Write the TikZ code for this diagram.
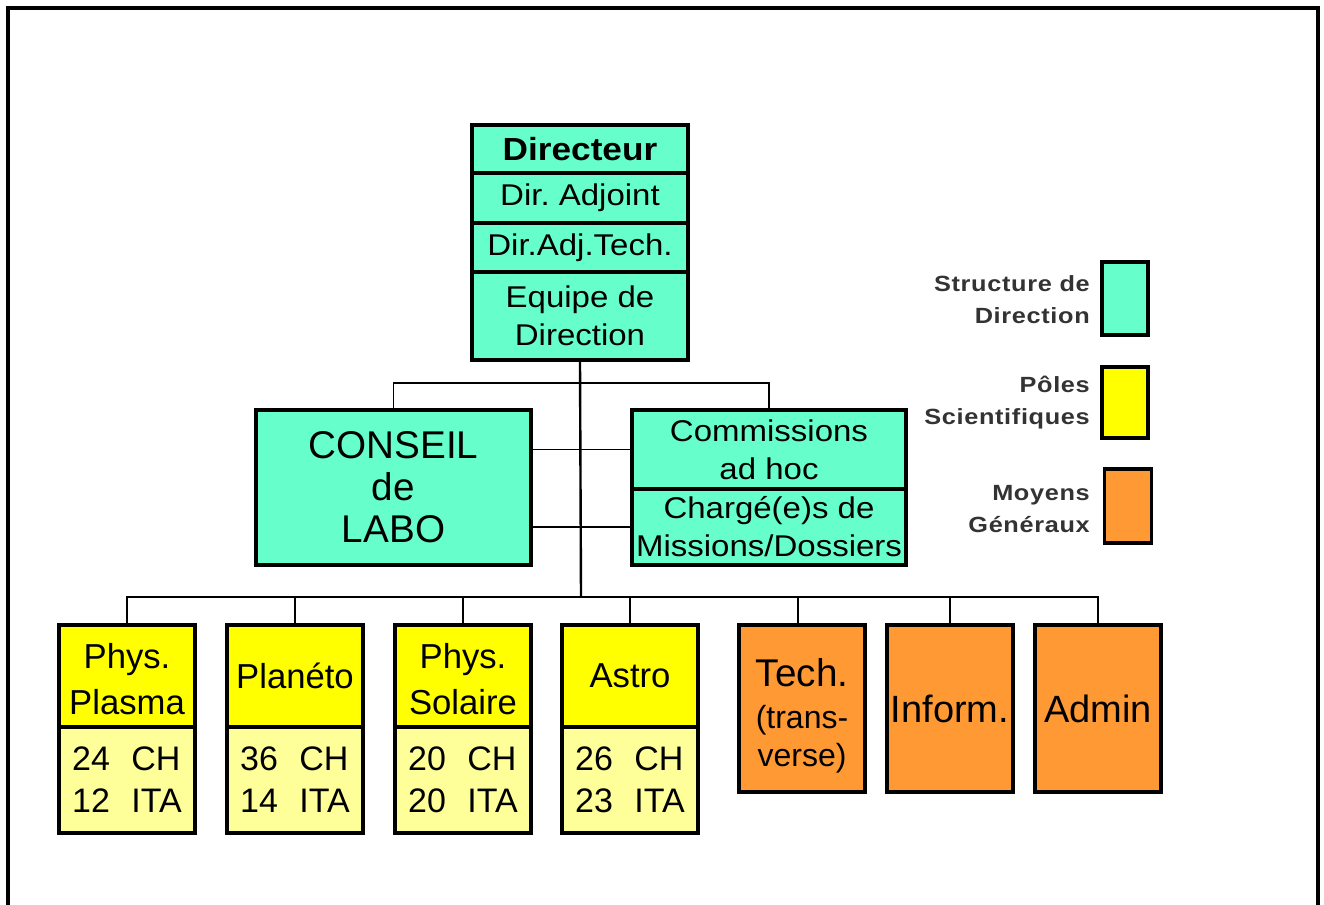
\documentclass[tikz,border=0pt]{standalone}
\usepackage{fontspec}
\usetikzlibrary{backgrounds}
\setmainfont{Liberation Sans}
\newfontfamily\wfont{Liberation Sans}[FakeStretch=1.1]
\newfontfamily\lfont{Liberation Sans}[FakeStretch=1.15,LetterSpace=3]
\definecolor{dirc}{RGB}{102,255,204}
\definecolor{polc}{RGB}{255,255,0}
\definecolor{polb}{RGB}{255,255,153}
\definecolor{moyc}{RGB}{255,153,51}
\definecolor{legt}{RGB}{51,51,51}
\frenchspacing
\tikzset{
  box/.style={draw=black, line width=2.3pt, inner sep=0pt, align=center},
  sz/.style 2 args={minimum width=#1*0.75pt, minimum height=#2*0.75pt},
  link/.style={draw=black, line width=1.8pt},
  thin link/.style={draw=black, line width=1.3pt},
  frame/.style={draw=black, line width=2.3pt},
  legtext/.style={inner sep=0pt, align=right, anchor=east, text=legt,
    font=\lfont\bfseries\fontsize{16.5}{24}\selectfont},
  stack/.style={font=\wfont\fontsize{22.5}{28.5}\selectfont},
  ptitle/.style={font=\fontsize{26}{34.5}\selectfont},
  pnum/.style={align=left, font=\fontsize{25.5}{31.5}\selectfont},
  moy/.style={font=\fontsize{28.5}{32}\selectfont},
}
\begin{document}
\begin{tikzpicture}[x=0.75pt,y=-0.75pt]
\useasboundingbox (0,0) rectangle (1324,905);
\draw[frame] (8,905) -- (8,8) -- (1318,8) -- (1318,905);

\coordinate (busT) at (581,383);
\coordinate (busB) at (581,597);

% direction stack
\path
  (580,149)   node[box, fill=dirc, sz={216}{48}, font=\wfont\bfseries\fontsize{24}{28}\selectfont] (dir) {Directeur}
  (580,198)   node[box, fill=dirc, sz={216}{50}, stack] (adj) {Dir. Adjoint}
  (580,247.5) node[box, fill=dirc, sz={216}{49}, stack] (adjt) {Dir.Adj.Tech.}
  (580,316)   node[box, fill=dirc, sz={216}{88}, stack] (eq) {Equipe de\\Direction};

% conseil and commissions
\path
  (393.5,487.5) node[box, fill=dirc, sz={275}{155}, font=\fontsize{29}{31.5}\selectfont] (conseil) {CONSEIL\\de\\LABO}
  (769,449.5)   node[box, fill=dirc, sz={274}{79}, stack] (commA) {Commissions\\ad hoc}
  (769,527)     node[box, fill=dirc, sz={274}{76}, stack] (commB) {Chargé(e)s de\\Missions/Dossiers};

% poles scientifiques
\path
  (127,676) node[box, fill=polc, sz={136}{102}, ptitle] (p1t) {\rule{0pt}{24.2pt}Phys.\\Plasma}
  (127,780) node[box, fill=polb, sz={136}{106}, pnum] (p1b) {24\hspace{16pt}CH\\12\hspace{16pt}ITA}
  (295,676) node[box, fill=polc, sz={136}{102}, ptitle] (p2t) {Planéto}
  (295,780) node[box, fill=polb, sz={136}{106}, pnum] (p2b) {36\hspace{16pt}CH\\14\hspace{16pt}ITA}
  (463,676) node[box, fill=polc, sz={136}{102}, ptitle] (p3t) {\rule{0pt}{24.2pt}Phys.\\Solaire}
  (463,780) node[box, fill=polb, sz={136}{106}, pnum] (p3b) {20\hspace{16pt}CH\\20\hspace{16pt}ITA}
  (630,676) node[box, fill=polc, sz={136}{102}, ptitle] (p4t) {Astro}
  (630,780) node[box, fill=polb, sz={136}{106}, pnum] (p4b) {26\hspace{16pt}CH\\23\hspace{16pt}ITA};

% moyens generaux
\path
  (802,708.5)  node[box, fill=moyc, sz={126}{167}, font=\fontsize{29}{32}\selectfont] (techn)
      {\rule{0pt}{31.5pt}Tech.\\{\fontsize{24}{28}\selectfont(trans-}\\[-4pt]{\fontsize{24}{28}\selectfont verse)}}
  (950,708.5)  node[box, fill=moyc, sz={126}{167}, moy] (inform) {Inform.}
  (1098,708.5) node[box, fill=moyc, sz={126}{167}, moy] (admin) {Admin};

% connectors, under the boxes
\begin{scope}[on background layer]
  \draw[link] (eq.south) -- (busB);
  \draw[thin link] (conseil.north) -- (conseil.north |- busT) -| (commA.north);
  \draw[thin link] (conseil.east |- commA.west) -- (commA.west);
  \draw[link] (conseil.east |- commB.west) -- (commB.west);
  \draw[link] (p1t.north) -- (p1t.north |- busB) -| (admin.north);
  \foreach \n in {p2t,p3t,p4t,inform}
    \draw[link] (\n.north) -- (\n.north |- busB);
  \draw[link] ([xshift=-3pt]techn.north) -- ([xshift=-3pt]techn.north |- busB);
\end{scope}

% legend
\path
  (1125,298.5) node[box, fill=dirc, sz={46}{73}] (lg1) {}
  (1125,402.5) node[box, fill=polc, sz={46}{71}] (lg2) {}
  (1128,506)   node[box, fill=moyc, sz={47}{74}] (lg3) {};
\node[legtext] (lt1) at (1090,300) {Structure de\\Direction};
\node[legtext] (lt2) at (1090,402.5) {Pôles\\Scientifiques};
\node[legtext] (lt3) at (1090,509) {Moyens\\Généraux};
\end{tikzpicture}
\end{document}
